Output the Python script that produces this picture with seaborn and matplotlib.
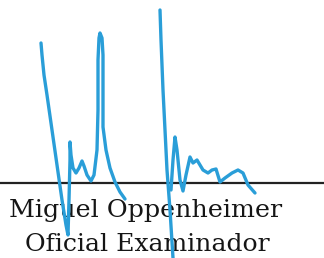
import matplotlib
matplotlib.use("Agg")
import matplotlib.pyplot as plt
import seaborn as sns
import pandas as pd

# Signature strokes (pixel coordinates, y downward)
stroke_a_x = [41, 42, 44, 47, 52, 57, 62, 66, 68, 69, 70, 70, 71, 73, 76, 79, 82, 84, 87, 91, 94, 97, 98, 98, 99, 100, 102, 103, 103, 103, 106, 110, 115, 120, 125]
stroke_a_y = [43, 55, 75, 95, 130, 165, 200, 225, 235, 200, 160, 142, 155, 168, 173, 168, 161, 166, 175, 181, 175, 150, 110, 60, 38, 33, 38, 55, 100, 127, 150, 168, 182, 192, 199]
stroke_b_x = [160, 161, 163, 165, 167, 170, 173]
stroke_b_y = [10, 40, 90, 130, 170, 210, 258]
stroke_c_x = [171, 173, 175, 177, 180, 183, 186, 190, 193, 197, 200, 203, 208, 212, 216, 220, 225, 232, 238, 243, 248, 255]
stroke_c_y = [190, 160, 137, 150, 180, 191, 175, 157, 163, 160, 165, 170, 173, 170, 169, 182, 178, 173, 170, 173, 185, 193]

line_y = 183
name_text = "Miguel Oppenheimer"
title_text = "Oficial Examinador"

rows = []
for name, xs, ys in [("a", stroke_a_x, stroke_a_y), ("b", stroke_b_x, stroke_b_y), ("c", stroke_c_x, stroke_c_y)]:
    for i, (x, y) in enumerate(zip(xs, ys)):
        rows.append({"stroke": name, "order": i, "x": x, "y": y})
df = pd.DataFrame(rows)

sns.set_style("white")
fig = plt.figure(figsize=(3.24, 2.58), dpi=100)
ax = fig.add_axes([0, 0, 1, 1])
ax.set_xlim(0, 324)
ax.set_ylim(258, 0)
ax.axis("off")

ax.axhline(line_y, color="#222222", lw=1.6, zorder=1)

t1 = ax.text(146, 217, name_text, ha="center", va="baseline", fontsize=20,
             family="DejaVu Serif", color="#151515", zorder=2)
t2 = ax.text(147.5, 251, title_text, ha="center", va="baseline", fontsize=20,
             family="DejaVu Serif", color="#151515", zorder=2)

# fit text widths to the reference
fig.canvas.draw()
r = fig.canvas.get_renderer()
for t, w in [(t1, 272), (t2, 245)]:
    bw = t.get_window_extent(r).width
    t.set_fontsize(20 * w / bw)

sns.lineplot(data=df, x="x", y="y", units="stroke", estimator=None, sort=False,
             color="#2a9ed8", lw=2.4, ax=ax, legend=False, zorder=3,
             solid_joinstyle="round", solid_capstyle="round")

fig.savefig("out.png", dpi=100)
